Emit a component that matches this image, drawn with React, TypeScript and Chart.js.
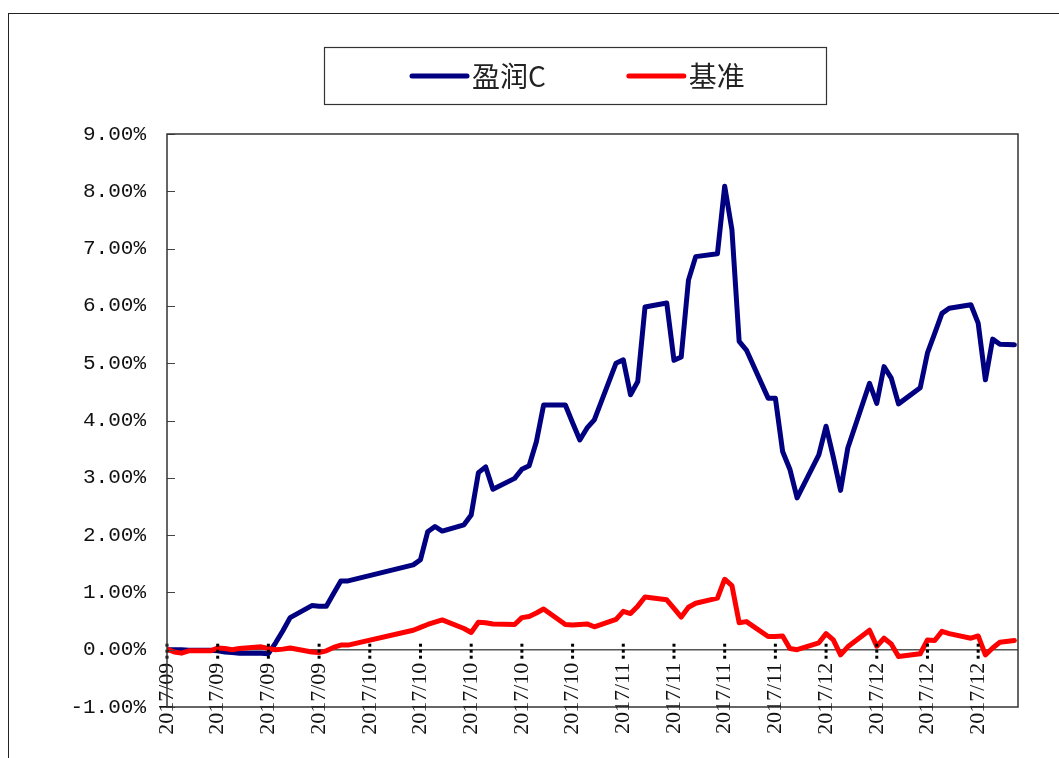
import React, { useEffect, useRef } from "react";
import { Chart, registerables } from "chart.js";

Chart.register(...registerables);

// ---------- data ----------
const axisStart = "2017-09-05";
const axisEnd = "2017-12-31";

const xTickDates = [
  "2017-09-05", "2017-09-12", "2017-09-19", "2017-09-26",
  "2017-10-03", "2017-10-10", "2017-10-17", "2017-10-24", "2017-10-31",
  "2017-11-07", "2017-11-14", "2017-11-21", "2017-11-28",
  "2017-12-05", "2017-12-12", "2017-12-19", "2017-12-26",
];

const dates = [
  "2017-09-05", "2017-09-06", "2017-09-07", "2017-09-08",
  "2017-09-11", "2017-09-12", "2017-09-13", "2017-09-14", "2017-09-15",
  "2017-09-18", "2017-09-19", "2017-09-20", "2017-09-21", "2017-09-22",
  "2017-09-25", "2017-09-26", "2017-09-27", "2017-09-28", "2017-09-29", "2017-09-30",
  "2017-10-09", "2017-10-10", "2017-10-11", "2017-10-12", "2017-10-13",
  "2017-10-16", "2017-10-17", "2017-10-18", "2017-10-19", "2017-10-20",
  "2017-10-23", "2017-10-24", "2017-10-25", "2017-10-26", "2017-10-27",
  "2017-10-30", "2017-10-31",
  "2017-11-01", "2017-11-02", "2017-11-03",
  "2017-11-06", "2017-11-07", "2017-11-08", "2017-11-09", "2017-11-10",
  "2017-11-13", "2017-11-14", "2017-11-15", "2017-11-16", "2017-11-17",
  "2017-11-20", "2017-11-21", "2017-11-22", "2017-11-23", "2017-11-24",
  "2017-11-27", "2017-11-28", "2017-11-29", "2017-11-30",
  "2017-12-01",
  "2017-12-04", "2017-12-05", "2017-12-06", "2017-12-07", "2017-12-08",
  "2017-12-11", "2017-12-12", "2017-12-13", "2017-12-14", "2017-12-15",
  "2017-12-18", "2017-12-19", "2017-12-20", "2017-12-21", "2017-12-22",
  "2017-12-25", "2017-12-26", "2017-12-27", "2017-12-28", "2017-12-29",
  "2017-12-31",
];

// 盈润C (%)
const fundValues = [
  0.0, 0.0, 0.0, -0.01,
  -0.01, -0.02, -0.04, -0.05, -0.06,
  -0.06, -0.07, 0.12, 0.33, 0.56,
  0.77, 0.76, 0.76, 0.98, 1.2, 1.2,
  1.48, 1.57, 2.06, 2.15, 2.07,
  2.18, 2.35, 3.09, 3.19, 2.8,
  2.99, 3.15, 3.21, 3.63, 4.27,
  4.27, 3.96,
  3.66, 3.87, 4.01,
  5.0, 5.06, 4.45, 4.68, 5.98,
  6.05, 5.05, 5.11, 6.45, 6.86,
  6.91, 8.09, 7.33, 5.38, 5.23,
  4.39, 4.39, 3.46, 3.15,
  2.65,
  3.4, 3.9, 3.36, 2.78, 3.52,
  4.65, 4.3, 4.94, 4.74, 4.29,
  4.57, 5.18, 5.52, 5.87, 5.96,
  6.02, 5.7, 4.71, 5.42, 5.33,
  5.32,
];

// 基准 (%)
const benchValues = [
  0.01, -0.04, -0.06, -0.02,
  -0.02, 0.03, 0.02, 0.0, 0.02,
  0.05, 0.02, 0.0, 0.01, 0.03,
  -0.04, -0.05, -0.02, 0.04, 0.08, 0.08,
  0.34, 0.39, 0.44, 0.48, 0.52,
  0.37, 0.3, 0.48, 0.47, 0.45,
  0.44, 0.56, 0.58, 0.64, 0.71,
  0.44, 0.43,
  0.44, 0.45, 0.4,
  0.53, 0.67, 0.63, 0.76, 0.92,
  0.87, 0.72, 0.57, 0.74, 0.81,
  0.9, 1.23, 1.12, 0.47, 0.49,
  0.23, 0.23, 0.24, 0.02,
  0.0,
  0.12, 0.28, 0.17, -0.09, 0.05,
  0.34, 0.06, 0.2, 0.1, -0.12,
  -0.07, 0.17, 0.16, 0.32, 0.28,
  0.2, 0.24, -0.09, 0.03, 0.13,
  0.16,
];

const seriesNames = ["盈润C", "基准"];
const seriesColors = ["#000080", "#FF0000"];

const yMin = -1;
const yMax = 9;
const yStep = 1;

// ---------- helpers ----------
const DAY = 86400000;
const dayIndex = (d: string) =>
  (Date.parse(d + "T00:00:00Z") - Date.parse(axisStart + "T00:00:00Z")) / DAY;

const fmtMonth = (v: number) => {
  const dt = new Date(Date.parse(axisStart + "T00:00:00Z") + Math.round(v) * DAY);
  const m = dt.getUTCMonth() + 1;
  return `${dt.getUTCFullYear()}/${m < 10 ? "0" + m : m}`;
};

const Y_FONT = "'Liberation Mono', 'DejaVu Sans Mono', monospace";
const X_FONT = "'Liberation Serif', 'DejaVu Serif', serif";
const LEGEND_FONT = "'Noto Sans CJK SC', sans-serif";

const framePlugin = {
  id: "frame",
  beforeDatasetsDraw(chart: any) {
    const { ctx, chartArea: a, scales } = chart;
    const y0 = scales.y.getPixelForValue(0);
    ctx.save();
    ctx.strokeStyle = "#555";
    ctx.lineWidth = 1.5;
    ctx.beginPath();
    ctx.moveTo(a.left, y0);
    ctx.lineTo(a.right, y0);
    ctx.stroke();
    ctx.restore();
  },
  afterDatasetsDraw(chart: any) {
    const { ctx, chartArea: a, scales } = chart;
    const y0 = scales.y.getPixelForValue(0);
    ctx.save();
    // y tick marks (inside)
    ctx.strokeStyle = "#444";
    ctx.lineWidth = 1;
    scales.y.ticks.forEach((t: any) => {
      const py = Math.round(scales.y.getPixelForValue(t.value)) + 0.5;
      ctx.beginPath();
      ctx.moveTo(a.left, py);
      ctx.lineTo(a.left + 8, py);
      ctx.stroke();
    });
    // dotted x tick marks
    ctx.strokeStyle = "#000";
    ctx.lineWidth = 3;
    ctx.setLineDash([3, 3]);
    scales.x.ticks.forEach((t: any) => {
      const px = scales.x.getPixelForValue(t.value);
      ctx.beginPath();
      ctx.moveTo(px, y0 - 6);
      ctx.lineTo(px, y0 + 12);
      ctx.stroke();
    });
    ctx.setLineDash([]);
    // plot border
    ctx.strokeStyle = "#333";
    ctx.lineWidth = 1.5;
    ctx.strokeRect(a.left, a.top, a.right - a.left, a.bottom - a.top);
    ctx.restore();
  },
};

const legendPlugin = {
  id: "boxLegend",
  afterDraw(chart: any) {
    const { ctx } = chart;
    const box = { left: 315, top: 33, width: 502, height: 57 };
    ctx.save();
    ctx.strokeStyle = "#333";
    ctx.lineWidth = 1.2;
    ctx.strokeRect(box.left + 0.5, box.top + 0.5, box.width, box.height);
    ctx.font = `28px ${LEGEND_FONT}`;
    ctx.textBaseline = "middle";
    ctx.fillStyle = "#222";
    const cy = box.top + box.height / 2 + 0.5;
    let x = 403;
    chart.data.datasets.forEach((ds: any) => {
      ctx.strokeStyle = ds.borderColor;
      ctx.lineWidth = 5;
      ctx.lineCap = "round";
      ctx.beginPath();
      ctx.moveTo(x, cy);
      ctx.lineTo(x + 55, cy);
      ctx.stroke();
      ctx.fillText(ds.label, x + 60, cy);
      x += 60 + ctx.measureText(ds.label).width + 83;
    });
    ctx.restore();
  },
};

export default function App() {
  const ref = useRef<HTMLCanvasElement>(null);

  useEffect(() => {
    if (!ref.current) return;
    const series = [fundValues, benchValues];
    const chart = new Chart(ref.current, {
      type: "line",
      data: {
        datasets: series.map((vals, k) => ({
          label: seriesNames[k],
          data: dates.map((d, i) => ({ x: dayIndex(d), y: vals[i] })),
          borderColor: seriesColors[k],
          backgroundColor: seriesColors[k],
          borderWidth: 5,
          pointRadius: 0,
          tension: 0,
          borderJoinStyle: "round",
          borderCapStyle: "round",
          order: k === 0 ? 1 : 0,
        })),
      },
      options: {
        responsive: false,
        animation: false,
        events: [],
        layout: { padding: { left: 0, top: 120, right: 41, bottom: 51 } },
        plugins: {
          legend: { display: false },
          tooltip: { enabled: false },
        },
        scales: {
          x: {
            type: "linear",
            position: { y: 0 } as any,
            min: 0,
            max: dayIndex(axisEnd) + 0.5,
            afterBuildTicks: (s: any) => {
              s.ticks = xTickDates.map((d) => ({ value: dayIndex(d) }));
            },
            ticks: {
              autoSkip: false,
              minRotation: 90,
              maxRotation: 90,
              padding: 13,
              color: "#111",
              font: { family: X_FONT, size: 22 },
              callback: (v: any) => fmtMonth(Number(v)),
            },
            grid: { display: false, drawTicks: false },
            border: { display: false },
          },
          y: {
            type: "linear",
            position: "left",
            min: yMin,
            max: yMax,
            afterFit: (s: any) => {
              s.width = 158;
            },
            ticks: {
              stepSize: yStep,
              padding: 21,
              color: "#111",
              font: { family: Y_FONT, size: 21 },
              callback: (v: any) => Number(v).toFixed(2) + "%",
            },
            grid: { display: false, drawTicks: false },
            border: { display: false },
          },
        },
      } as any,
      plugins: [framePlugin, legendPlugin],
    });
    return () => chart.destroy();
  }, []);

  return (
    <div
      style={{
        position: "fixed",
        left: 8,
        top: 13,
        width: 1051,
        height: 745,
        borderLeft: "1px solid #222",
        borderTop: "1px solid #222",
        background: "#fff",
        overflow: "hidden",
      }}
    >
      <canvas
        ref={ref}
        width={1050}
        height={744}
        style={{ display: "block", width: 1050, height: 744 }}
      />
    </div>
  );
}
